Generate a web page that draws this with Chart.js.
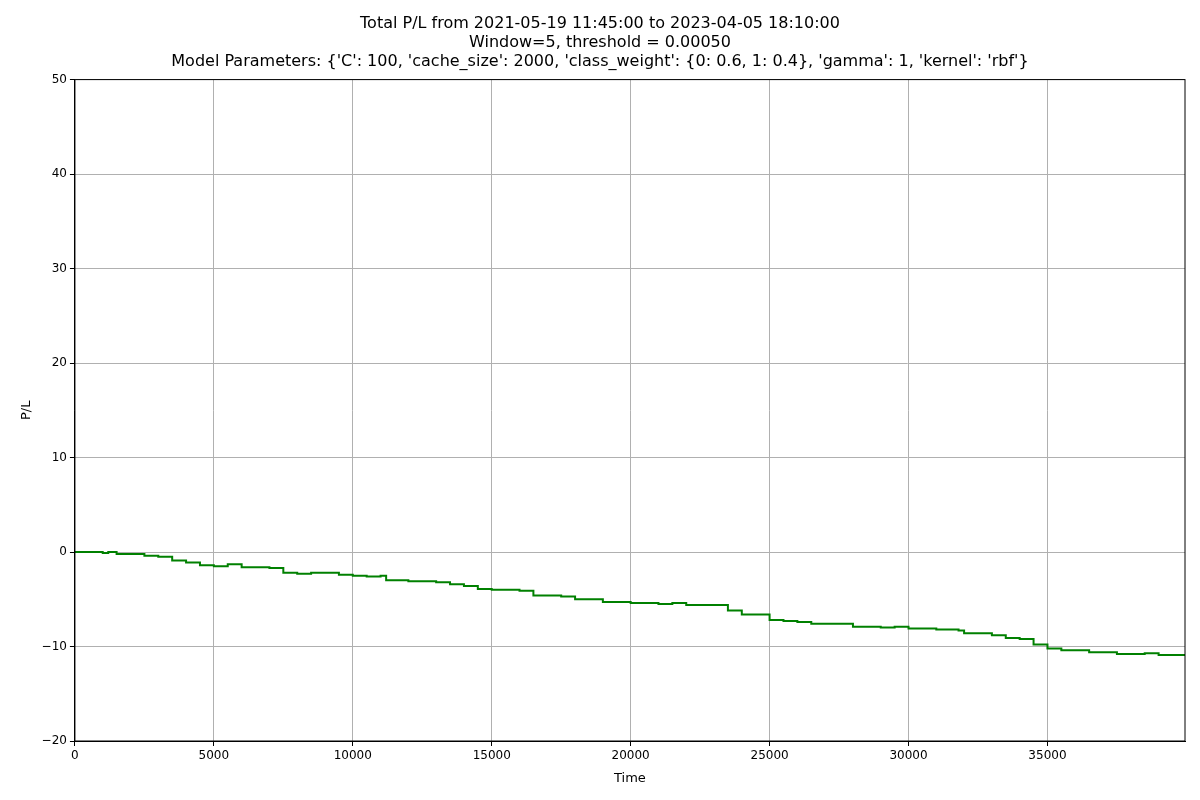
<!DOCTYPE html>
<html>
<head>
<script src="https://cdn.jsdelivr.net/npm/chart.js@4"></script>
<style>body{margin:0;background:#fff}#wrap{width:1200px;height:800px}</style>
</head>
<body>
<div id="wrap"><canvas id="c"></canvas></div>
<script>
const times = [0,1000,1200,1500,2500,3000,3500,4000,4500,5000,5500,6000,7000,7500,8000,8500,9500,10000,10500,11000,11200,12000,13000,13500,14000,14500,15000,16000,16500,17500,18000,19000,20000,21000,21500,22000,23000,23500,24000,25000,25500,26000,26500,27500,28000,29000,29500,30000,31000,31800,32000,33000,33500,34000,34500,35000,35500,36500,37500,38500,39000,39950];
const pl = [0,-0.1,0,-0.2,-0.4,-0.5,-0.9,-1.1,-1.4,-1.5,-1.3,-1.6,-1.7,-2.2,-2.3,-2.2,-2.4,-2.5,-2.6,-2.5,-3.0,-3.1,-3.2,-3.4,-3.6,-3.9,-4.0,-4.1,-4.6,-4.7,-5.0,-5.3,-5.4,-5.5,-5.4,-5.6,-5.6,-6.2,-6.6,-7.2,-7.3,-7.4,-7.6,-7.6,-7.9,-8.0,-7.9,-8.1,-8.2,-8.3,-8.6,-8.8,-9.1,-9.2,-9.8,-10.2,-10.4,-10.6,-10.8,-10.7,-10.9,-11.0];
const titleLines = ["Total P/L from 2021-05-19 11:45:00 to 2023-04-05 18:10:00","Window=5, threshold = 0.00050","Model Parameters: {'C': 100, 'cache_size': 2000, 'class_weight': {0: 0.6, 1: 0.4}, 'gamma': 1, 'kernel': 'rbf'}"];
const fmt = v => (v < 0 ? "\u2212" + Math.abs(v) : String(v));
Chart.defaults.font.family = "DejaVu Sans";
Chart.defaults.color = "#000";
// draw the top and right spines like matplotlib
const box = {
  id: "box",
  afterDraw(chart) {
    const a = chart.chartArea, ctx = chart.ctx;
    ctx.save();
    ctx.strokeStyle = "#000"; ctx.lineWidth = 1;
    ctx.strokeRect(a.left, a.top, a.right - a.left, a.bottom - a.top);
    ctx.restore();
  }
};
new Chart(document.getElementById("c"), {
  type: "line",
  data: { datasets: [{ data: times.map((t, i) => ({x: t, y: pl[i]})), borderColor: "#008000", borderWidth: 2, pointRadius: 0, stepped: true }] },
  options: {
    responsive: true, maintainAspectRatio: false, animation: false,
    layout: { padding: { top: 6, right: 15, left: 15, bottom: 10 } },
    plugins: {
      legend: { display: false },
      title: { display: true, text: titleLines, font: { size: 16, weight: "normal" }, padding: { top: 8, bottom: 8 }, lineHeight: 1.2 }
    },
    scales: {
      x: { type: "linear", min: 0, max: 39950,
        afterBuildTicks: s => { s.ticks = [0,5000,10000,15000,20000,25000,30000,35000].map(v => ({value: v})); },
        ticks: { font: { size: 12 }, maxRotation: 0, callback: v => fmt(v) },
        grid: { color: "#b0b0b0", tickColor: "#000", tickLength: 5 },
        border: { color: "#000" },
        title: { display: true, text: "Time", font: { size: 13 } } },
      y: { min: -20, max: 50,
        ticks: { stepSize: 10, font: { size: 12 }, callback: v => fmt(v) },
        grid: { color: "#b0b0b0", tickColor: "#000", tickLength: 5 },
        border: { color: "#000" },
        title: { display: true, text: "P/L", font: { size: 13 } } }
    }
  },
  plugins: [box]
});
</script>
</body>
</html>
